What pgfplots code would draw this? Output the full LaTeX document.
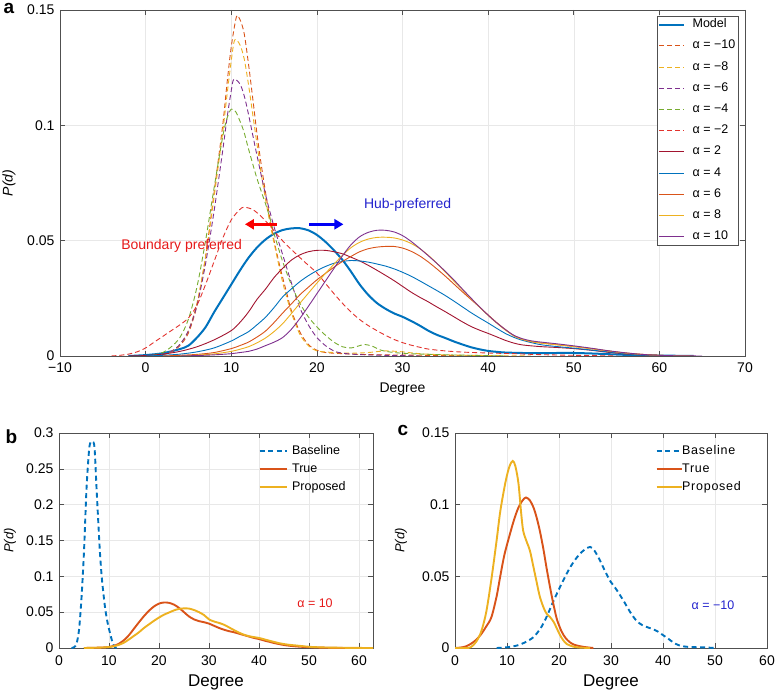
\documentclass[border=0pt]{standalone}
\usepackage{fontspec}
\setmainfont{Liberation Sans}
\newfontfamily\spaced[LetterSpace=6]{Liberation Sans}
\usepackage{pgfplots}
\pgfplotsset{compat=1.18}
\usetikzlibrary{arrows.meta}
\definecolor{mblue}{RGB}{0,114,189}
\definecolor{morange}{RGB}{217,83,25}
\definecolor{myellow}{RGB}{237,177,32}
\definecolor{mpurple}{RGB}{126,47,142}
\definecolor{mgreen}{RGB}{119,172,48}
\definecolor{mred}{RGB}{226,50,45}
\definecolor{mdred}{RGB}{162,20,47}
\definecolor{axgray}{RGB}{80,80,80}
\definecolor{gridgray}{RGB}{232,232,232}
\definecolor{annred}{RGB}{230,25,25}
\definecolor{annblue}{RGB}{35,35,205}
\definecolor{arred}{RGB}{250,0,0}
\definecolor{arblue}{RGB}{0,0,245}
\pgfplotsset{mystyle/.style={scale only axis, anchor=south west,
  axis line style={draw=axgray, line width=0.7pt},
  grid=major, grid style={draw=gridgray, line width=0.5pt},
  tick style={draw=axgray, line width=0.6pt}, major tick length=5pt, tick align=inside,
  ticklabel style={font=\fontsize{14}{16}\selectfont},
  xticklabel style={yshift=-3pt}, yticklabel style={xshift=-2pt},
  /pgf/number format/assume math mode=true,
  legend cell align=left,
  legend image code/.code={\draw[##1] (0pt,0pt) -- (25pt,0pt);},
}}
\begin{document}
\begin{tikzpicture}
\useasboundingbox (0,0) rectangle (775pt,690pt);
% ---------------- panel a
\begin{axis}[mystyle, at={(60pt,334pt)}, width=685pt, height=346pt,
  xmin=-10, xmax=70, ymin=0, ymax=0.15,
  xtick={-10,0,10,20,30,40,50,60,70}, xticklabels={−10,0,10,20,30,40,50,60,70},
  ytick={0,0.05,0.1,0.15}, yticklabels={0,0.05,0.1,0.15},
  xlabel={Degree}, xlabel style={font=\fontsize{14}{16}\selectfont, at={(axis description cs:0.5,-0.0954)}, anchor=center},
  ylabel={\itshape P(d)}, ylabel style={font=\fontsize{14}{16}\selectfont, at={(axis description cs:-0.0745,0.5)}, anchor=center},
  legend style={at={(1,1)}, anchor=north east, xshift=-7pt, yshift=-6pt, draw=axgray, fill=white,
    font=\fontsize{12.5}{14}\selectfont, inner sep=1pt, row sep=6.2pt,
    nodes={inner sep=1.5pt, text height=9pt, text depth=3pt}},
  /tikz/every odd column/.append style={column sep=6pt},
  every axis plot/.append style={smooth, tension=0.5},
]
\addplot[mblue, line width=2pt] coordinates {(-2,0)(0,0.0004)(2,0.0012)(4,0.003)(5,0.0045)(6,0.008)(7,0.0125)(8,0.019)(9,0.025)(10,0.031)(11,0.037)(12,0.0425)(13,0.047)(14,0.0505)(15,0.053)(16,0.0546)(17,0.0553)(18,0.0554)(19,0.0545)(20,0.0525)(21,0.0495)(22,0.0458)(23,0.0416)(24,0.0365)(25,0.031)(26,0.0265)(27,0.023)(28,0.0205)(29,0.0185)(30,0.017)(31,0.0152)(32,0.0132)(33,0.011)(34,0.0092)(35,0.0078)(36,0.0063)(37,0.005)(38,0.0038)(39,0.0029)(40,0.0022)(41,0.0018)(42,0.0015)(44,0.0013)(46,0.0012)(48,0.0013)(50,0.0013)(52,0.0011)(54,0.0008)(56,0.0005)(58,0.0003)(60,0.0002)(62,0.0001)(64,0)};
\addlegendentry{Model}
\addplot[morange, line width=0.9pt, dash pattern=on 5pt off 3pt] coordinates {(1,0)(2,0.0006)(3,0.0018)(4,0.0045)(5,0.01)(6,0.022)(7,0.043)(8,0.071)(9,0.1)(9.5,0.118)(10,0.134)(10.6,0.147)(11,0.146)(11.5,0.14)(12,0.127)(12.5,0.112)(13,0.0965)(13.5,0.083)(14,0.071)(14.5,0.06)(15,0.05)(15.7,0.0385)(16.5,0.027)(17,0.02)(18,0.0105)(19,0.005)(20,0.0025)(21,0.0015)(23,0.001)(26,0.0006)(30,0.0004)(35,0.0002)(40,0)};
\addlegendentry{α = −10}
\addplot[myellow, line width=0.9pt, dash pattern=on 5pt off 3pt] coordinates {(1,0)(2,0.0006)(3,0.002)(4,0.005)(5,0.011)(6,0.023)(7,0.043)(8,0.069)(9,0.097)(9.5,0.113)(10,0.128)(10.4,0.137)(11,0.135)(11.5,0.129)(12,0.118)(12.5,0.105)(13,0.092)(13.5,0.079)(14,0.068)(14.5,0.058)(15,0.049)(16,0.032)(17,0.019)(18,0.0095)(19,0.0045)(20,0.0022)(22,0.0015)(24,0.0012)(26,0.0015)(28,0.0022)(30,0.0018)(32,0.001)(35,0.0005)(40,0.0002)(45,0)};
\addlegendentry{α = −8}
\addplot[mpurple, line width=0.9pt, dash pattern=on 5pt off 3pt] coordinates {(1,0)(2,0.0006)(3,0.002)(4,0.005)(5,0.011)(6,0.022)(7,0.04)(8,0.063)(9,0.089)(9.5,0.103)(10,0.115)(10.3,0.12)(11,0.118)(11.5,0.113)(12,0.105)(12.5,0.096)(13,0.087)(14,0.07)(15,0.056)(16,0.044)(17,0.032)(18,0.021)(19,0.0135)(20,0.008)(21,0.0045)(22,0.0022)(23,0.0012)(25,0.0006)(28,0.0003)(32,0)};
\addlegendentry{α = −6}
\addplot[mgreen, line width=0.9pt, dash pattern=on 5pt off 3pt] coordinates {(0,0)(1,0.0005)(2,0.0015)(3,0.004)(4,0.008)(5,0.016)(6,0.03)(7,0.05)(8,0.073)(9,0.095)(9.5,0.103)(10,0.107)(10.5,0.106)(11,0.102)(11.5,0.097)(12,0.09)(13,0.077)(14,0.066)(14.5,0.06)(15,0.053)(16,0.041)(17,0.031)(18,0.023)(19,0.017)(20,0.0126)(21,0.009)(22,0.006)(23,0.004)(24,0.0035)(25,0.0045)(25.6,0.005)(26.5,0.0042)(27.5,0.0025)(29,0.0015)(31,0.001)(34,0.0006)(38,0.0003)(42,0)};
\addlegendentry{α = −4}
\addplot[mred, line width=0.9pt, dash pattern=on 5pt off 3pt] coordinates {(-4,0)(-3,0.0003)(-2,0.0008)(-1,0.0018)(0,0.0035)(1,0.006)(2,0.0085)(3,0.011)(4,0.0135)(5,0.0165)(6,0.022)(7,0.031)(8,0.041)(9,0.051)(10,0.059)(11,0.0635)(11.5,0.0645)(12.5,0.0635)(13.5,0.0605)(14.5,0.0565)(15.5,0.052)(16.5,0.048)(17.5,0.0445)(18.5,0.041)(20,0.036)(21,0.0315)(22,0.027)(23,0.0228)(24,0.019)(25,0.0158)(26,0.0132)(27,0.011)(28,0.009)(29,0.0072)(30,0.0058)(31,0.0047)(32,0.0038)(33,0.003)(35,0.0022)(37,0.0017)(40,0.0013)(43,0.001)(46,0.0006)(50,0.0003)(55,0)};
\addlegendentry{α = −2}
\addplot[mdred, line width=0.9pt] coordinates {(-2,0)(0,0.0002)(2,0.0008)(4,0.002)(6,0.004)(8,0.007)(10,0.011)(11,0.0145)(12,0.019)(13,0.0245)(14,0.029)(15,0.034)(16,0.038)(17,0.0415)(18,0.0438)(19,0.0452)(20,0.0458)(21,0.0458)(22,0.0452)(23,0.0443)(24,0.0428)(25,0.0412)(26,0.0393)(27,0.0372)(28,0.035)(29,0.0327)(30,0.0302)(31,0.0277)(32,0.0255)(33,0.0235)(34,0.0213)(35,0.0192)(36,0.017)(37,0.0148)(38,0.0128)(39,0.0112)(40,0.0098)(41,0.0083)(42,0.0068)(43,0.0056)(44,0.0048)(46,0.0041)(48,0.0037)(50,0.0032)(52,0.0025)(54,0.0016)(56,0.0009)(58,0.0005)(60,0.0002)(62,0)};
\addlegendentry{α = 2}
\addplot[mblue, line width=0.9pt] coordinates {(0,0)(2,0.0003)(4,0.0008)(6,0.0018)(8,0.0035)(10,0.0065)(11,0.0085)(12,0.0105)(13,0.0135)(14,0.0168)(15,0.021)(16,0.0256)(17,0.029)(18,0.0322)(19,0.0348)(20,0.037)(21,0.0388)(22,0.0402)(23,0.041)(24,0.0414)(25,0.0412)(26,0.0407)(27,0.0399)(28,0.039)(29,0.0378)(30,0.0363)(31,0.0346)(32,0.0326)(33,0.0305)(34,0.0284)(35,0.0262)(36,0.0238)(37,0.0213)(38,0.0188)(39,0.0165)(40,0.0143)(41,0.012)(42,0.0098)(43,0.0081)(44,0.0068)(46,0.005)(48,0.0041)(50,0.0034)(52,0.0026)(54,0.0018)(56,0.001)(58,0.0005)(60,0.0002)(62,0)};
\addlegendentry{α = 4}
\addplot[morange, line width=0.9pt] coordinates {(2,0)(4,0.0003)(6,0.0007)(8,0.0015)(10,0.0032)(11,0.0045)(12,0.006)(13,0.0082)(14,0.0108)(15,0.0145)(16,0.0186)(17,0.0225)(18,0.0265)(19,0.0298)(20,0.033)(21,0.0358)(22,0.0385)(23,0.041)(24,0.0432)(25,0.0452)(26,0.0465)(27,0.0472)(28,0.0475)(29,0.0475)(30,0.0468)(31,0.0454)(32,0.0434)(33,0.0408)(34,0.0378)(35,0.0346)(36,0.0312)(37,0.0278)(38,0.0245)(39,0.0212)(40,0.0178)(41,0.0145)(42,0.0115)(43,0.0088)(44,0.0072)(45,0.0062)(46,0.0057)(48,0.0049)(50,0.0041)(52,0.0032)(54,0.0022)(56,0.0013)(58,0.0007)(60,0.0003)(62,0.0001)(64,0)};
\addlegendentry{α = 6}
\addplot[myellow, line width=0.9pt] coordinates {(4,0)(6,0.0004)(8,0.0009)(10,0.002)(11,0.0029)(12,0.004)(13,0.0057)(14,0.0078)(15,0.0106)(16,0.014)(17,0.0183)(18,0.0228)(19,0.0272)(20,0.0316)(21,0.0358)(22,0.0398)(23,0.0437)(24,0.047)(25,0.0493)(26,0.0507)(27,0.0514)(28,0.0515)(29,0.0512)(30,0.0503)(31,0.0488)(32,0.0466)(33,0.0437)(34,0.0402)(35,0.0364)(36,0.0325)(37,0.0287)(38,0.0249)(39,0.0212)(40,0.0176)(41,0.0143)(42,0.0113)(43,0.0088)(44,0.0072)(45,0.0063)(46,0.0057)(48,0.0049)(50,0.0041)(52,0.0032)(54,0.0022)(56,0.0013)(58,0.0007)(60,0.0003)(62,0.0001)(64,0)};
\addlegendentry{α = 8}
\addplot[mpurple, line width=0.9pt] coordinates {(4,0)(6,0.0002)(8,0.0005)(10,0.001)(11,0.0015)(12,0.002)(13,0.003)(14,0.0045)(15,0.006)(16,0.008)(17,0.0115)(18,0.0162)(19,0.0215)(20,0.027)(21,0.0325)(22,0.038)(23,0.0435)(24,0.0483)(25,0.0517)(26,0.0536)(27,0.0545)(28,0.0545)(29,0.0538)(30,0.0522)(31,0.0497)(32,0.0467)(33,0.0435)(34,0.0402)(35,0.0367)(36,0.033)(37,0.029)(38,0.0251)(39,0.0213)(40,0.0177)(41,0.0144)(42,0.0115)(43,0.009)(44,0.0075)(45,0.0066)(46,0.0061)(48,0.0053)(50,0.0044)(52,0.0034)(54,0.0023)(56,0.0014)(58,0.0007)(60,0.0003)(62,0.0001)(65,0)};
\addlegendentry{α = 10}
\node[text=annred, font=\fontsize{14}{16}\selectfont] at (axis cs:4.2,0.0476) {Boundary preferred};
\node[text=annblue, font=\fontsize{14}{16}\selectfont] at (axis cs:30.6,0.0654) {Hub-preferred};
\draw[arred, line width=2.6pt, -{Triangle[length=9pt,width=10pt]}] (axis cs:15.3,0.0571) -- (axis cs:11.6,0.0571);
\draw[arblue, line width=2.6pt, -{Triangle[length=9pt,width=10pt]}] (axis cs:19.1,0.0571) -- (axis cs:23.1,0.0571);
\end{axis}
% ---------------- panel b
\begin{axis}[mystyle, at={(59pt,42pt)}, width=314pt, height=215pt,
  xmin=0, xmax=62.8, ymin=0, ymax=0.3,
  xtick={0,10,20,30,40,50,60},
  ytick={0,0.05,0.1,0.15,0.2,0.25,0.3}, yticklabels={0,0.05,0.1,0.15,0.2,0.25,0.3},
  xticklabel style={yshift=-1pt},
  xlabel={Degree}, xlabel style={font=\fontsize{17}{19}\selectfont, at={(axis description cs:0.5,-0.158)}, anchor=center},
  ylabel={\itshape P(d)}, ylabel style={font=\fontsize{13}{15}\selectfont, at={(axis description cs:-0.156,0.5)}, anchor=center},
  legend style={at={(0,1)}, anchor=north west, xshift=199.5pt, yshift=-10.5pt, draw=none, fill=none,
    font=\fontsize{12.5}{14}\selectfont, inner sep=0pt, row sep=3pt,
    nodes={inner sep=1.5pt, text height=9pt, text depth=3pt}},
  legend image code/.code={\draw[#1] (0pt,0pt) -- (27pt,0pt);},
  /tikz/every odd column/.append style={column sep=3pt},
  every axis plot/.append style={smooth, tension=0.5},
]
\addplot[mblue, line width=1.9pt, dash pattern=on 5pt off 3.5pt] coordinates {(2.5,0)(3,0.001)(3.5,0.006)(4,0.025)(4.5,0.07)(5,0.135)(5.5,0.222)(6,0.275)(6.3,0.287)(6.7,0.288)(7.1,0.28)(7.5,0.224)(7.9,0.17)(8.2,0.132)(8.6,0.095)(9.2,0.057)(9.7,0.036)(10.2,0.021)(10.7,0.008)(11.2,0.001)(11.8,0)};
\addlegendentry{Baseline}
\addplot[morange, line width=1.9pt] coordinates {(5,0)(7,0.0003)(9,0.0008)(10,0.0015)(11,0.003)(12,0.006)(13,0.011)(14,0.018)(15,0.027)(16,0.036)(17,0.0445)(18,0.052)(19,0.058)(20,0.062)(21,0.0635)(22,0.063)(23,0.0605)(24,0.056)(25,0.05)(26,0.044)(27,0.04)(28,0.0375)(29,0.036)(30,0.034)(31,0.031)(32,0.028)(33,0.0255)(34,0.0235)(35,0.022)(36,0.02)(37,0.018)(38,0.016)(39,0.014)(40,0.0125)(41,0.0105)(42,0.0088)(43,0.007)(44,0.0055)(45,0.0042)(46,0.0032)(47,0.0025)(48,0.0019)(50,0.0011)(52,0.0006)(55,0.0002)(58,0)};
\addlegendentry{True}
\addplot[myellow, line width=1.9pt] coordinates {(5,0)(7,0.0003)(9,0.0008)(10,0.0014)(11,0.0025)(12,0.0045)(13,0.0075)(14,0.012)(15,0.017)(16,0.022)(17,0.028)(18,0.033)(19,0.038)(20,0.0425)(21,0.0465)(22,0.0495)(23,0.0525)(24,0.0545)(25,0.0553)(26,0.055)(27,0.053)(28,0.05)(29,0.046)(30,0.04)(31,0.037)(32,0.035)(33,0.0325)(34,0.0288)(35,0.025)(36,0.0215)(37,0.0185)(38,0.0165)(39,0.0152)(40,0.014)(41,0.0122)(42,0.0103)(43,0.0085)(44,0.0068)(45,0.0055)(46,0.0045)(47,0.0038)(48,0.0031)(50,0.0017)(52,0.001)(54,0.0006)(57,0.0003)(60,0.0001)(63,0)};
\addlegendentry{Proposed}
\node[text=annred, font=\fontsize{12.5}{14}\selectfont] at (axis cs:51.2,0.0625) {α = 10};
\end{axis}
% ---------------- panel c
\begin{axis}[mystyle, at={(455pt,42pt)}, width=312pt, height=215pt,
  xmin=0, xmax=60, ymin=0, ymax=0.15,
  xtick={0,10,20,30,40,50,60},
  ytick={0,0.05,0.1,0.15}, yticklabels={0,0.05,0.1,0.15},
  xticklabel style={yshift=-1pt},
  xlabel={Degree}, xlabel style={font=\fontsize{17}{19}\selectfont, at={(axis description cs:0.5,-0.158)}, anchor=center},
  ylabel={\itshape P(d)}, ylabel style={font=\fontsize{13}{15}\selectfont, at={(axis description cs:-0.173,0.5)}, anchor=center},
  legend style={at={(0,1)}, anchor=north west, xshift=200.5pt, yshift=-10.5pt, draw=none, fill=none,
    font=\spaced\fontsize{12.5}{14}\selectfont, inner sep=0pt, row sep=3pt,
    nodes={inner sep=1.5pt, text height=9pt, text depth=3pt}},
  /tikz/every odd column/.append style={column sep=-2pt},
  every axis plot/.append style={smooth, tension=0.5},
]
\addplot[mblue, line width=1.9pt, dash pattern=on 5pt off 3.5pt] coordinates {(8,0)(10,0.0005)(12,0.0018)(13.5,0.004)(15.1,0.0076)(16.5,0.014)(17.6,0.0216)(18.6,0.03)(19.6,0.038)(20.8,0.047)(22.1,0.056)(23.4,0.063)(24.7,0.068)(26,0.0705)(26.8,0.068)(27.9,0.061)(28.8,0.054)(29.8,0.047)(31,0.041)(32.4,0.033)(33.7,0.025)(34.9,0.019)(36,0.016)(37,0.0145)(38,0.0132)(39,0.0115)(40,0.009)(41,0.0065)(42,0.0038)(43,0.002)(44.2,0.001)(46,0.0006)(48,0.0004)(50,0)};
\addlegendentry{Baseline}
\addplot[morange, line width=1.9pt] coordinates {(0,0)(1,0.0003)(2,0.001)(3,0.0028)(4,0.0055)(5,0.0095)(6,0.015)(7,0.0215)(8,0.036)(8.65,0.049)(9.5,0.065)(10.6,0.08)(11.4,0.09)(12.2,0.098)(13,0.103)(13.65,0.105)(14.4,0.103)(15.1,0.098)(15.7,0.091)(16.3,0.082)(17,0.069)(17.6,0.056)(18.3,0.042)(18.9,0.031)(19.6,0.02)(20.5,0.0115)(21.3,0.0068)(22.1,0.004)(23,0.0022)(24.7,0.0008)(26.6,0)};
\addlegendentry{True}
\addplot[myellow, line width=1.9pt] coordinates {(0,0)(2,0)(3,0.0005)(4,0.004)(5,0.011)(6,0.025)(7,0.048)(8,0.075)(8.65,0.094)(9.3,0.108)(9.9,0.119)(10.5,0.127)(11.1,0.1305)(11.6,0.127)(12.2,0.115)(12.7,0.095)(13.1,0.082)(13.7,0.075)(14.4,0.068)(15,0.058)(15.7,0.046)(16.3,0.036)(17,0.0285)(17.6,0.024)(18.3,0.0215)(19,0.018)(19.6,0.0135)(20.2,0.009)(20.8,0.0055)(21.5,0.0028)(22.7,0.001)(24,0.0003)(26,0)};
\addlegendentry{Proposed}
\node[text=annblue, font=\fontsize{12.5}{14}\selectfont] at (axis cs:49.6,0.030) {α = −10};
\end{axis}
\node[anchor=base west, font=\bfseries\fontsize{19}{20}\selectfont] at (0pt,676pt) {a};
\node[anchor=base west, font=\bfseries\fontsize{19}{20}\selectfont] at (2pt,246pt) {b};
\node[anchor=base west, font=\bfseries\fontsize{19}{20}\selectfont] at (394pt,254pt) {c};
\end{tikzpicture}
\end{document}
